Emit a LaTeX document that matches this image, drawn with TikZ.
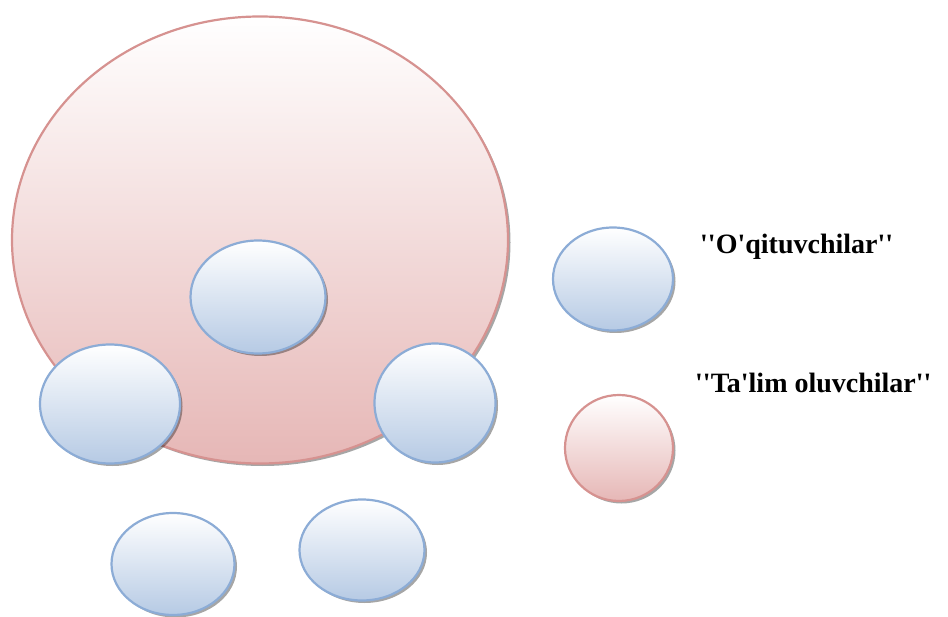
\documentclass[tikz,border=0pt]{standalone}
\usepackage{fontspec}
\newfontfamily\tnr{Liberation Serif}
\usetikzlibrary{shapes.geometric,shadows}
\definecolor{bluebord}{RGB}{140,172,214}
\definecolor{bluebot}{RGB}{182,202,228}
\definecolor{redbord}{RGB}{214,146,144}
\definecolor{redbot}{RGB}{230,183,182}
\begin{document}
\begin{tikzpicture}[x=1pt,y=-1pt,
  ballbase/.style={ellipse, inner sep=0pt, line width=2.2pt,
    drop shadow={shadow xshift=2.5pt, shadow yshift=-2.5pt, fill=black, opacity=0.35}},
  blueball/.style={ballbase, draw=bluebord, top color=white, bottom color=bluebot},
  redball/.style={ballbase, draw=redbord, top color=white, bottom color=redbot},
  legendtext/.style={font=\tnr\bfseries\fontsize{28}{32}\selectfont, anchor=base west, inner sep=0pt}]
\useasboundingbox (0,0) rectangle (948,617);
\node[redball, minimum width=496pt, minimum height=447pt] (big) at (260,240) {};
\node[blueball, minimum width=135pt, minimum height=113pt] (center) at (258,297) {};
\node[blueball, minimum width=140pt, minimum height=119pt] (left) at (110,404) {};
\node[blueball, minimum width=121pt, minimum height=119pt] (right) at (435,403) {};
\node[blueball, minimum width=123pt, minimum height=102pt] (botleft) at (173,564) {};
\node[blueball, minimum width=125pt, minimum height=101pt] (botmid) at (362,550) {};
\node[blueball, minimum width=120pt, minimum height=103pt] (legblue) at (613,279) {};
\node[redball, minimum width=108pt, minimum height=106pt] (legred) at (619,448) {};
\node[legendtext] (t1) at (700,254) {''O'qituvchilar''};
\node[legendtext] (t2) at (695,393) {''Ta'lim oluvchilar''};
\end{tikzpicture}
\end{document}
